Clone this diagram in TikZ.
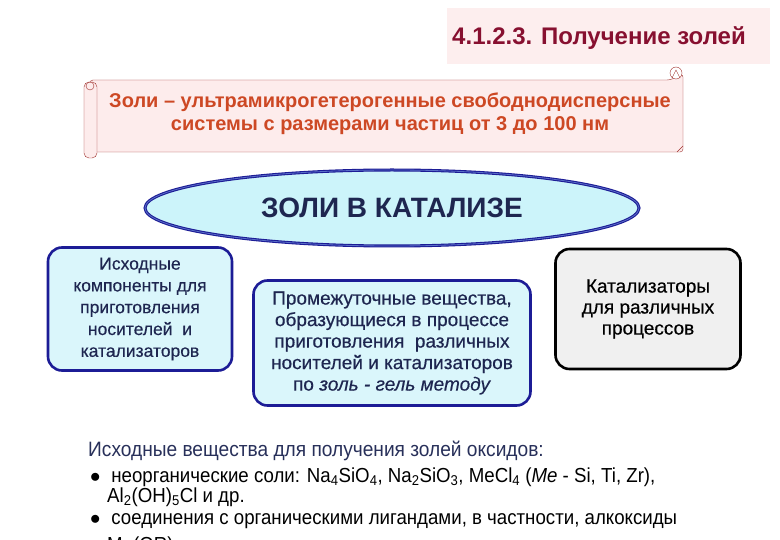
\documentclass[tikz,border=0pt]{standalone}
\usepackage{fontspec}
\setmainfont{Liberation Sans}
\newfontfamily\narrowfont[FakeStretch=0.92]{Liberation Sans}
\newfontfamily\boxfont[FakeBold=0.4]{Liberation Sans}
\usetikzlibrary{shapes.geometric}

\definecolor{titlered}{RGB}{135,16,48}
\definecolor{titlefill}{RGB}{253,238,238}
\definecolor{scrollred}{RGB}{160,50,46}
\definecolor{scrollfill}{RGB}{253,236,236}
\definecolor{scrolltext}{RGB}{205,72,36}
\definecolor{boxblue}{RGB}{28,28,150}
\definecolor{ringblue}{RGB}{90,110,200}
\definecolor{boxfill}{RGB}{218,246,251}
\definecolor{ellfill}{RGB}{204,244,250}
\definecolor{navytext}{RGB}{30,38,80}
\definecolor{greyfill}{RGB}{240,240,240}
\definecolor{headtext}{RGB}{40,48,90}

\tikzset{
	bluebox/.style={draw=boxblue, fill=boxfill, line width=2.6pt,
		rounded corners=14pt, align=center, text=navytext,
		font=\boxfont\fontsize{19}{21.5}\selectfont, inner sep=0pt},
	textline/.style={anchor=west, inner sep=0pt,
		font=\narrowfont\fontsize{20.3}{22}\selectfont}
}

\begin{document}
\begin{tikzpicture}[x=1pt, y=-1pt]

% page %{{{2

	\clip (0,0) rectangle (780,540);
	\fill[white] (0,0) rectangle (780,540);

% title %{{{2

	\fill[titlefill] (447,8) rectangle (770,64);
	\node[text=titlered, font=\bfseries\fontsize{24}{28}\selectfont]
		(title) at (599,38) {4.1.2.3. Получение золей};

% scroll with definition %{{{2

	\draw[scrollred, fill=scrollfill, rounded corners=3pt]
		(90,80) -- (670,80) -- (683,74) -- (683,152) -- (90,152) -- cycle;
	\draw[scrollred, fill=scrollfill, rounded corners=5pt]
		(84,82) rectangle (97,158);
	\draw[scrollred] (90,86) circle (4);
	\draw[scrollred, fill=white] (676,73) circle (6);
	\draw[scrollred] (672,78) -- (676,70) -- (680,78);
	\draw[scrollred] (677,152) -- (683,146);

	\node[text=scrolltext, align=center,
		font=\bfseries\fontsize{20}{23}\selectfont]
		(def) at (390,114)
		{Золи – ультрамикрогетерогенные свободнодисперсные\\
		системы с размерами частиц от 3 до 100 нм};

% central ellipse %{{{2

	\node[ellipse, draw=boxblue, fill=ellfill, line width=3pt,
		minimum width=494pt, minimum height=76pt, text=navytext,
		font=\bfseries\fontsize{28}{32}\selectfont]
		(sols) at (392,208) {ЗОЛИ В КАТАЛИЗЕ};
	\draw[ringblue, line width=0.8pt] (sols.center) ellipse (247pt and 38pt);

% three boxes %{{{2

	\node[bluebox, minimum width=184pt, minimum height=123pt,
		font=\boxfont\fontsize{17.5}{21.8}\selectfont]
		(source) at (140,309)
		{Исходные\\компоненты для\\приготовления\\носителей\; и\\катализаторов};

	\node[bluebox, minimum width=277pt, minimum height=125pt]
		(inter) at (392,343)
		{Промежуточные вещества,\\образующиеся в процессе\\
		приготовления\; различных\\носителей и катализаторов\\
		по \textit{золь - гель методу}};

	\node[bluebox, draw=black, fill=greyfill, text=black,
		minimum width=185pt, minimum height=120pt, font=\boxfont\fontsize{19}{21}\selectfont]
		(cats) at (648,309)
		{Катализаторы\\для различных\\процессов};

% starting materials %{{{2

	\node[textline, text=headtext, font=\narrowfont\fontsize{20.8}{22}\selectfont]
		(head) at (88,451)
		{Исходные вещества для получения золей оксидов:};

	\node[textline] (bulA) at (90,477)
		{$\bullet$\; неорганические соли: Na\textsubscript{4}SiO\textsubscript{4},
		Na\textsubscript{2}SiO\textsubscript{3},
		MeCl\textsubscript{4} (\textit{Me} - Si, Ti, Zr),};
	\node[textline] (contA) at (107,497)
		{Al\textsubscript{2}(OH)\textsubscript{5}Cl и др.};
	\node[textline] (bulB) at (90,521)
		{$\bullet$\; соединения с органическими лигандами, в частности, алкоксиды};
	\node[textline] (contB) at (107,546) {Me(OR)\textsubscript{4}};

% closing %{{{2

\end{tikzpicture}
\end{document}
